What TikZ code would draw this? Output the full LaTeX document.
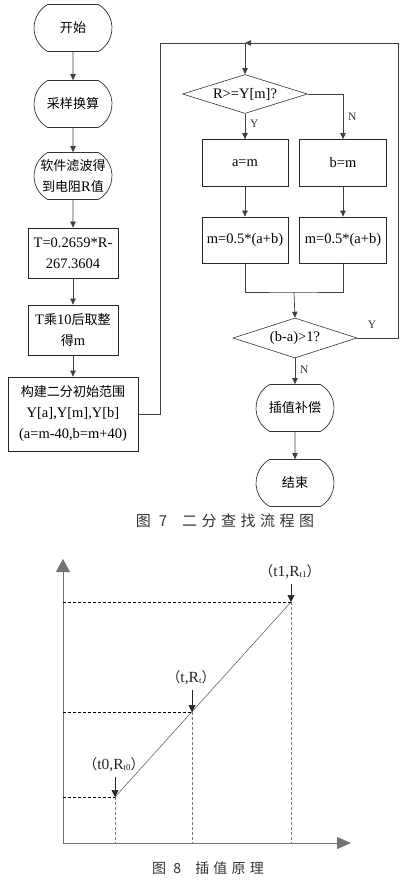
\documentclass[tikz,border=0pt]{standalone}
\usepackage{fontspec}
\setmainfont{Liberation Serif}
\newfontfamily\cjk[Scale=0.9]{Noto Sans CJK SC}
\newfontfamily\capcjk[LetterSpace=30]{Noto Sans CJK SC}
\usetikzlibrary{shapes.misc,shapes.geometric,arrows.meta}

\begin{document}
\fontsize{14.5}{21}\selectfont
\begin{tikzpicture}[x=1pt,y=-1pt,
	line/.style={draw=black!75,line width=0.7pt},
	arr/.style={line,-{Triangle[length=6pt,width=5.5pt]}},
	term/.style={draw=black!80,line width=0.7pt,rounded rectangle,rounded rectangle arc length=120,
		minimum width=80pt,minimum height=47pt,inner sep=1pt,align=center,font=\cjk},
	box/.style={draw=black!85,line width=0.8pt,minimum width=90pt,minimum height=50pt,inner sep=1pt,align=center},
	test/.style={draw=black!80,line width=0.6pt,diamond,aspect=3.2,inner sep=0pt,
		minimum width=125pt,minimum height=39pt},
	yn/.style={font=\fontsize{11.5}{13}\selectfont,text=black!80},
	guide/.style={dashed,dash pattern=on 3pt off 2pt},
	pin/.style={draw=black!85,line width=0.7pt,-{Triangle[length=7pt,width=7pt]}},
	ptlabel/.style={text=black!85,font=\fontsize{15.5}{18}\selectfont}
	]
	\useasboundingbox (0,0) rectangle (409,887);
	% left column
	\node[term] (start)  at (73,28)  {开始};
	\node[term] (sample) at (73,104) {采样换算};
	\node[term] (filter) at (73,176) {软件滤波得\\到电阻\rmfamily R\cjk 值};
	\node[box]  (calc)   at (73,253) {T=0.2659*R-\\267.3604};
	\node[box]  (round)  at (73,330) {T{\cjk 乘}10{\cjk 后取整}\\{\cjk 得}m};
	\node[box,minimum width=130pt,minimum height=74pt] (init) at (73,414)
		{{\cjk 构建二分初始范围}\\Y[a],Y[m],Y[b]\\(a=m-40,b=m+40)};
	\draw[arr] (start) -- (sample);
	\draw[arr] (sample) -- (filter);
	\draw[arr] (filter) -- (calc);
	\draw[arr] (calc) -- (round);
	\draw[arr] (round) -- (init);
	% search loop
	\coordinate (lp) at (160,43);
	\coordinate (mp) at (245,43);
	\coordinate (rp) at (398,43);
	\node[test] (cmp) at (245,94) {R>=Y[m]?};
	\node[box,minimum width=86pt,minimum height=47pt] (seta) at (245,163) {a=m};
	\node[box,minimum width=87pt,minimum height=47pt] (setb) at (343,163) {b=m};
	\node[box,minimum width=86pt,minimum height=46pt] (mida) at (245,240) {m=0.5*(a+b)};
	\node[box,minimum width=87pt,minimum height=46pt] (midb) at (343,240) {m=0.5*(a+b)};
	\coordinate (jn) at (294,292);
	\node[test,minimum width=124pt,minimum height=40pt] (gap) at (295,338) {(b-a)>1?};
	\node[term] (interp) at (295,408) {插值补偿};
	\node[term] (stop)   at (295,483) {结束};
	\draw[line] (init.east) -| (lp) -- (mp);
	\draw[arr] (mp) -- (cmp.north);
	\draw[arr] (cmp.south) -- node[yn,right,pos=0.4] {Y} (seta.north);
	\draw[arr] (cmp.east) -| node[yn,right,pos=0.75] {N} (setb.north);
	\draw[arr] (seta) -- (mida);
	\draw[arr] (setb) -- (midb);
	\draw[line] (mida.south) |- (jn) -| (midb.south);
	\draw[arr] (jn) -- (gap.north);
	\draw[arr] (gap.east) -| (rp) -- (mp);
	\node[yn] (ylab) at (372,325) {Y};
	\draw[arr] (gap.south) -- node[yn,right,pos=0.45] {N} (interp.north);
	\draw[arr] (interp) -- (stop);
	\node[font=\fontsize{15}{18}\selectfont\capcjk,text=black!80] (cap7) at (225,521) {图 7\quad 二分查找流程图};
	% interpolation graph
	\coordinate (o)  at (63,843);
	\coordinate (ya) at (63,559);
	\coordinate (xa) at (351,843);
	\coordinate (p0) at (115,797);
	\coordinate (p)  at (192,712);
	\coordinate (p1) at (291,602);
	\draw[black!55,line width=0.8pt,-{Triangle[length=13pt,width=14pt]}] (o) -- (ya);
	\draw[black!55,line width=0.8pt,-{Triangle[length=14pt,width=12pt]}] (o) -- (xa);
	\draw[black!60,line width=0.6pt] (p0) -- (p1);
	\foreach \q in {p0,p,p1}{
		\draw[guide,black,line width=0.7pt] (o |- \q) -- (\q);
		\draw[guide,black!55,line width=0.6pt] (\q) -- (\q |- o);
	}
	\node[ptlabel] (lb1) at (290,572) {{\cjk （}t1,R\raisebox{-1pt}{\small t1}{\cjk ）}};
	\node[ptlabel] (lb)  at (191,678) {{\cjk （}t,R\raisebox{-1pt}{\small t}{\cjk ）}};
	\node[ptlabel] (lb0) at (114,765) {{\cjk （}t0,R\raisebox{-1pt}{\small t0}{\cjk ）}};
	\draw[pin] (lb1.south -| p1) -- (p1);
	\draw[pin] (lb.south -| p) -- (p);
	\draw[pin] (lb0.south -| p0) -- (p0);
	\node[font=\fontsize{14}{17}\selectfont\capcjk,text=black!80] (cap8) at (208,868) {图 8\quad 插值原理};
\end{tikzpicture}
\end{document}
